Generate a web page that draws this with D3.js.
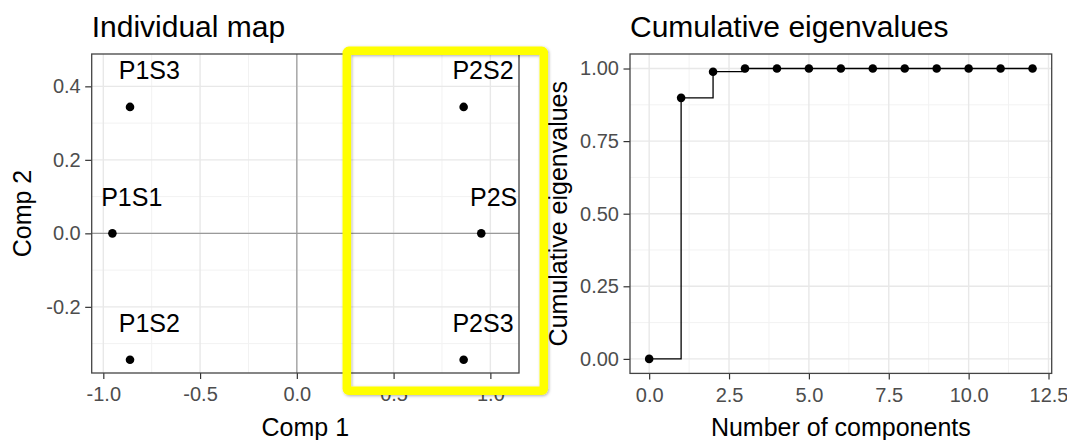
<!DOCTYPE html>
<html>
<head>
<meta charset="utf-8">
<script src="https://cdn.jsdelivr.net/npm/d3@7"></script>
<style>
  html, body { margin: 0; padding: 0; background: #fff; }
  svg { display: block; font-family: "Liberation Sans", Arial, sans-serif; }
</style>
</head>
<body>
<svg id="chart" width="1067" height="440"></svg>
<script>
// PCA individual coordinates
const individuals = ["P1S1", "P1S2", "P1S3", "P2S1", "P2S2", "P2S3"];
const comp1 = [-0.953, -0.862, -0.862, 0.953, 0.862, 0.862];
const comp2 = [0.0, -0.344, 0.344, 0.0, 0.344, -0.344];

// Cumulative share of eigenvalues by number of components
const nComponents = [0, 1, 2, 3, 4, 5, 6, 7, 8, 9, 10, 11, 12];
const cumEigen = [0, 0.899, 0.989, 1, 1, 1, 1, 1, 1, 1, 1, 1, 1];

// Axis ticks
const comp1Ticks = [-1.0, -0.5, 0.0, 0.5, 1.0];
const comp2Ticks = [-0.2, 0.0, 0.2, 0.4];
const compCountTicks = [0, 2.5, 5, 7.5, 10, 12.5];
const eigenTicks = [0, 0.25, 0.5, 0.75, 1];

const locale = d3.formatLocale({ decimal: ".", thousands: ",", grouping: [3], currency: ["", ""], minus: "-" });
const f1 = locale.format(".1f");
const f2 = locale.format(".2f");

const svg = d3.select("#chart");
const TICK_COL = "#4d4d4d";
const BORDER = "#444";

// minor breaks sit halfway between consecutive major breaks
function minors(ticks, domain) {
  const step = ticks[1] - ticks[0];
  const out = [];
  const all = [ticks[0] - step, ...ticks, ticks[ticks.length - 1] + step];
  for (let i = 0; i < all.length - 1; i++) {
    const m = (all[i] + all[i + 1]) / 2;
    if (m > domain[0] && m < domain[1]) out.push(m);
  }
  return out;
}

function panel(opts) {
  const { x, y, xTicks, yTicks, xFmt, yFmt, title, xTitle, yTitle, yTitleX, id } = opts;
  const [x0, x1] = x.range();
  const [y1, y0] = y.range();
  const g = svg.append("g");

  g.append("rect").attr("x", x0).attr("y", y0).attr("width", x1 - x0).attr("height", y1 - y0).attr("fill", "#fff");

  // minor grid
  g.append("g").selectAll("line").data(minors(xTicks, x.domain())).join("line")
    .attr("x1", d => x(d)).attr("x2", d => x(d)).attr("y1", y0).attr("y2", y1)
    .attr("stroke", "#f2f2f2").attr("stroke-width", 1);
  g.append("g").selectAll("line").data(minors(yTicks, y.domain())).join("line")
    .attr("y1", d => y(d)).attr("y2", d => y(d)).attr("x1", x0).attr("x2", x1)
    .attr("stroke", "#f2f2f2").attr("stroke-width", 1);
  // major grid
  g.append("g").selectAll("line").data(xTicks.filter(d => d >= x.domain()[0] && d <= x.domain()[1])).join("line")
    .attr("x1", d => x(d)).attr("x2", d => x(d)).attr("y1", y0).attr("y2", y1)
    .attr("stroke", "#e8e8e8").attr("stroke-width", 1.4);
  g.append("g").selectAll("line").data(yTicks).join("line")
    .attr("y1", d => y(d)).attr("y2", d => y(d)).attr("x1", x0).attr("x2", x1)
    .attr("stroke", "#e8e8e8").attr("stroke-width", 1.4);

  // axes
  const ax = g.append("g").attr("transform", `translate(0,${y1})`)
    .call(d3.axisBottom(x).tickValues(xTicks).tickFormat(xFmt).tickSize(6).tickPadding(8));
  const ay = g.append("g").attr("transform", `translate(${x0},0)`)
    .call(d3.axisLeft(y).tickValues(yTicks).tickFormat(yFmt).tickSize(6.5).tickPadding(4.5));
  [ax, ay].forEach(a => {
    a.select(".domain").remove();
    a.selectAll(".tick line").attr("stroke", "#333").attr("stroke-width", 1.2);
    a.selectAll(".tick text").attr("fill", TICK_COL).attr("font-size", 20)
      .attr("font-family", "Liberation Sans, Arial, sans-serif");
  });

  // titles
  g.append("text").attr("x", x0).attr("y", 37).attr("font-size", 30).attr("fill", "#000").text(title);
  g.append("text").attr("x", (x0 + x1) / 2).attr("y", 436).attr("text-anchor", "middle")
    .attr("font-size", 25).attr("fill", "#000").text(xTitle);
  g.append("text").attr("transform", `translate(${yTitleX},${(y0 + y1) / 2}) rotate(-90)`)
    .attr("text-anchor", "middle").attr("font-size", 25).attr("fill", "#000").text(yTitle);

  svg.append("defs").append("clipPath").attr("id", id)
    .append("rect").attr("x", x0).attr("y", y0).attr("width", x1 - x0).attr("height", y1 - y0);
  return g;
}

function border(x, y) {
  const [x0, x1] = x.range();
  const [y1, y0] = y.range();
  svg.append("rect").attr("x", x0).attr("y", y0).attr("width", x1 - x0).attr("height", y1 - y0)
    .attr("fill", "none").attr("stroke", BORDER).attr("stroke-width", 1.3);
}

// ---- Individual map ----
const xInd = d3.scaleLinear().domain([-1.06, 1.148]).range([91.7, 519]);
const yInd = d3.scaleLinear().domain([-0.38, 0.488]).range([373, 54]);
const gInd = panel({
  x: xInd, y: yInd, xTicks: comp1Ticks, yTicks: comp2Ticks, xFmt: f1, yFmt: f1,
  title: "Individual map", xTitle: "Comp 1", yTitle: "Comp 2", yTitleX: 31, id: "clip-ind"
});
// reference lines through the origin
gInd.append("line").attr("x1", xInd(0)).attr("x2", xInd(0)).attr("y1", yInd.range()[1]).attr("y2", yInd.range()[0])
  .attr("stroke", "#9a9a9a").attr("stroke-width", 1.2);
gInd.append("line").attr("y1", yInd(0)).attr("y2", yInd(0)).attr("x1", xInd.range()[0]).attr("x2", xInd.range()[1])
  .attr("stroke", "#9a9a9a").attr("stroke-width", 1.2);

const indData = individuals.map((name, i) => ({ name, c1: comp1[i], c2: comp2[i] }));
const gIndMarks = gInd.append("g").attr("clip-path", "url(#clip-ind)");
gIndMarks.selectAll("circle").data(indData).join("circle")
  .attr("cx", d => xInd(d.c1)).attr("cy", d => yInd(d.c2)).attr("r", 4.3).attr("fill", "#000");
gIndMarks.selectAll("text").data(indData).join("text")
  .attr("x", d => xInd(d.c1 + 0.1)).attr("y", d => yInd(d.c2 + 0.1) + 9)
  .attr("text-anchor", "middle").attr("font-size", 25).attr("fill", "#000")
  .text(d => d.name);
border(xInd, yInd);

// ---- Cumulative eigenvalues ----
const xEig = d3.scaleLinear().domain([-0.6, 12.6]).range([630, 1051.7]);
const yEig = d3.scaleLinear().domain([-0.05, 1.05]).range([373.4, 54]);
const gEig = panel({
  x: xEig, y: yEig, xTicks: compCountTicks, yTicks: eigenTicks, xFmt: f1, yFmt: f2,
  title: "Cumulative eigenvalues", xTitle: "Number of components", yTitle: "Cumulative eigenvalues",
  yTitleX: 567, id: "clip-eig"
});
const eigData = nComponents.map((n, i) => ({ n, v: cumEigen[i] }));
gEig.append("path").datum(eigData)
  .attr("d", d3.line().x(d => xEig(d.n)).y(d => yEig(d.v)).curve(d3.curveStepAfter))
  .attr("fill", "none").attr("stroke", "#000").attr("stroke-width", 1.3);
gEig.append("g").selectAll("circle").data(eigData).join("circle")
  .attr("cx", d => xEig(d.n)).attr("cy", d => yEig(d.v)).attr("r", 4.3).attr("fill", "#000");
border(xEig, yEig);

// ---- highlight frame ----
const defs = svg.append("defs");
const sh = defs.append("filter").attr("id", "soft-shadow").attr("x", "-10%").attr("y", "-10%")
  .attr("width", "120%").attr("height", "120%");
sh.append("feDropShadow").attr("dx", 1).attr("dy", 1).attr("stdDeviation", 1.5)
  .attr("flood-color", "#000").attr("flood-opacity", 0.3);
svg.append("rect").attr("x", 346.8).attr("y", 50.8).attr("width", 197).attr("height", 340)
  .attr("rx", 2).attr("fill", "none").attr("stroke", "#ffff00").attr("stroke-width", 8.5)
  .attr("filter", "url(#soft-shadow)");
</script>
</body>
</html>
